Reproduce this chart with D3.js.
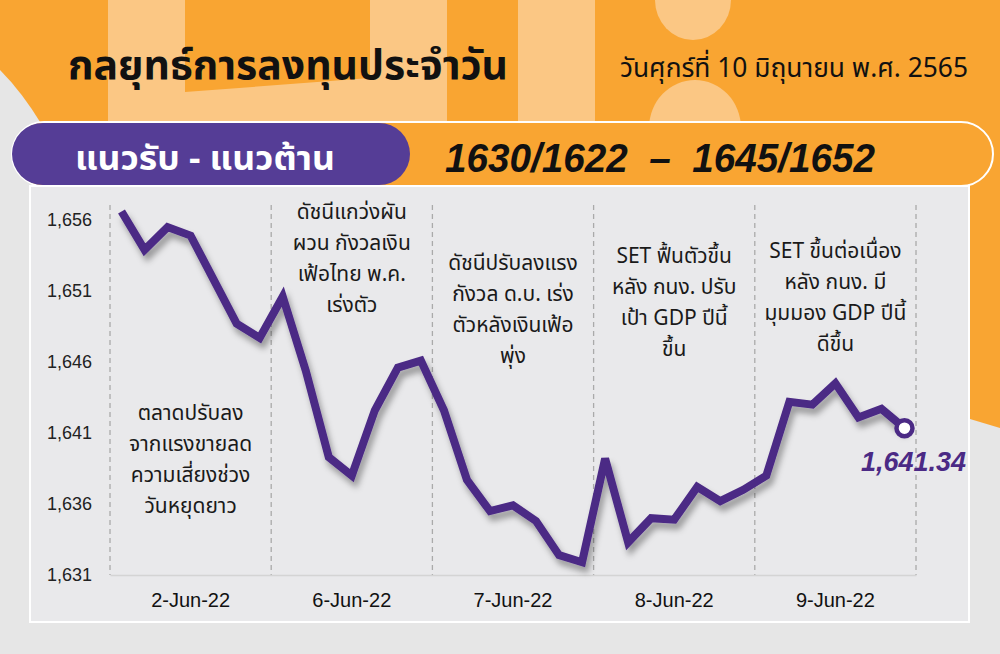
<!DOCTYPE html>
<html>
<head>
<meta charset="utf-8">
<script src="https://cdn.jsdelivr.net/npm/d3@7/dist/d3.min.js"></script>
<style>
  html, body { margin: 0; padding: 0; background: #e6e6e6; }
  svg { display: block; }
  .thai { font-family: "Noto Sans Thai", "Noto Sans Thai UI", "Noto Sans", "DejaVu Sans", sans-serif; }
  .lat { font-family: "Liberation Sans", Arial, sans-serif; }
</style>
</head>
<body>
<svg id="chart" width="1000" height="654"></svg>
<script>
// ---------------- DATA ----------------
const days = ["2-Jun-22", "6-Jun-22", "7-Jun-22", "8-Jun-22", "9-Jun-22"];
const day1 = [1656.6, 1653.9, 1655.5, 1654.9, 1651.8, 1648.7, 1647.7];
const day2 = [1650.6, 1645.4, 1639.3, 1638.0, 1642.6, 1645.6, 1646.1];
const day3 = [1642.6, 1637.7, 1635.5, 1635.9, 1634.8, 1632.4, 1631.9];
const day4 = [1639.2, 1633.3, 1635.0, 1634.9, 1637.2, 1636.2, 1637.0];
const day5 = [1638.0, 1643.2, 1643.0, 1644.5, 1642.1, 1642.7, 1641.34];
const yTicks = [1631, 1636, 1641, 1646, 1651, 1656];
const lastLabel = "1,641.34";
const title = "กลยุทธ์การลงทุนประจำวัน";
const dateText = "วันศุกร์ที่ 10 มิถุนายน พ.ศ. 2565";
const pillLabel = "แนวรับ - แนวต้าน";
const levels = "1630/1622  –  1645/1652";
const notes = [
  ["ตลาดปรับลง", "จากแรงขายลด", "ความเสี่ยงช่วง", "วันหยุดยาว"],
  ["ดัชนีแกว่งผัน", "ผวน กังวลเงิน", "เฟ้อไทย พ.ค.", "เร่งตัว"],
  ["ดัชนีปรับลงแรง", "กังวล ด.บ. เร่ง", "ตัวหลังเงินเฟ้อ", "พุ่ง"],
  ["SET ฟื้นตัวขึ้น", "หลัง กนง. ปรับ", "เป้า GDP ปีนี้", "ขึ้น"],
  ["SET ขึ้นต่อเนื่อง", "หลัง กนง. มี", "มุมมอง GDP ปีนี้", "ดีขึ้น"]
];

const series = [day1, day2, day3, day4, day5];
const points = [];
series.forEach((arr, d) => arr.forEach((v, k) => points.push({ day: d, k: k, v: v })));
const perDay = day1.length;

// ---------------- LAYOUT ----------------
const svg = d3.select("#chart");
const ORANGE = "#f9a532", LIGHT = "#fbc784", GRAY = "#e6e6e6", PURPLE = "#553d96", LINE = "#4b2a85";

const defs = svg.append("defs");
const f = defs.append("filter").attr("id", "shadow").attr("x", "-10%").attr("y", "-10%").attr("width", "120%").attr("height", "130%");
f.append("feDropShadow").attr("dx", 3).attr("dy", 6).attr("stdDeviation", 3)
  .attr("flood-color", "#000").attr("flood-opacity", 0.35);

// background
svg.append("rect").attr("width", 1000).attr("height", 654).attr("fill", GRAY);
svg.append("rect").attr("x", 0).attr("y", 0).attr("width", 1000).attr("height", 125).attr("fill", ORANGE);
svg.append("path").attr("d", "M960,120 L1000,120 L1000,428 L960,416 Z").attr("fill", ORANGE);
svg.append("path").attr("d", "M0,70 Q22,92 42,125 L0,125 Z").attr("fill", GRAY);
svg.append("rect").attr("x", 108).attr("y", 0).attr("width", 77).attr("height", 125).attr("fill", LIGHT);
svg.append("path").attr("d", "M185,92 L370,78 L370,125 L185,125 Z").attr("fill", LIGHT);
svg.append("rect").attr("x", 370).attr("y", 0).attr("width", 77).attr("height", 125).attr("fill", LIGHT);
svg.append("rect").attr("x", 518).attr("y", 0).attr("width", 77).attr("height", 125).attr("fill", LIGHT);
svg.append("ellipse").attr("cx", 693).attr("cy", 0).attr("rx", 38).attr("ry", 40).attr("fill", LIGHT);
svg.append("ellipse").attr("cx", 695).attr("cy", 128).attr("rx", 46).attr("ry", 48).attr("fill", LIGHT);

// header texts
svg.append("text").attr("class", "thai").attr("x", 68).attr("y", 79)
  .attr("font-size", 40).attr("font-weight", "bold").attr("fill", "#111")
  .attr("textLength", 440).attr("lengthAdjust", "spacingAndGlyphs").text(title);
svg.append("text").attr("class", "thai").attr("x", 620).attr("y", 77)
  .attr("font-size", 27).attr("fill", "#111")
  .attr("textLength", 348).attr("lengthAdjust", "spacingAndGlyphs").text(dateText);

// pills
svg.append("rect").attr("x", 12).attr("y", 122).attr("width", 981).attr("height", 64)
  .attr("rx", 32).attr("fill", ORANGE).attr("stroke", "#fff").attr("stroke-width", 2);
svg.append("rect").attr("x", 12).attr("y", 123).attr("width", 398).attr("height", 62)
  .attr("rx", 31).attr("fill", PURPLE);
svg.append("text").attr("class", "thai").attr("x", 75).attr("y", 170)
  .attr("font-size", 34).attr("font-weight", "bold").attr("fill", "#fff")
  .attr("textLength", 260).attr("lengthAdjust", "spacingAndGlyphs").text(pillLabel);
svg.append("text").attr("class", "lat").attr("x", 445).attr("y", 172)
  .attr("font-size", 40).attr("font-weight", "bold").attr("font-style", "italic").attr("fill", "#111")
  .attr("textLength", 430).attr("lengthAdjust", "spacingAndGlyphs")
  .style("white-space", "pre").text(levels);

// chart panel
svg.append("rect").attr("x", 30).attr("y", 186).attr("width", 939).attr("height", 436)
  .attr("fill", "#e9e9eb").attr("stroke", "#fff").attr("stroke-width", 2);

// scales
const xDay = d3.scaleBand().domain(days).range([110, 916]);
const x = d3.scaleLinear().domain([0, days.length * perDay]).range([110, 916]);
const y = d3.scaleLinear().domain([1631, 1656]).range([575, 220]);
const px = p => x(p.day * perDay + p.k + 0.5);

const g = svg.append("g");

// dashed dividers
const edges = days.map(d => xDay(d)).concat([xDay.range()[1]]);
g.selectAll("line.div").data(edges).join("line")
  .attr("x1", d => d).attr("x2", d => d).attr("y1", 205).attr("y2", 575)
  .attr("stroke", "#aaaaaa").attr("stroke-width", 1.3).attr("stroke-dasharray", "5,4");

// x axis
const xAxis = g.append("g").attr("transform", "translate(0,575)")
  .call(d3.axisBottom(xDay).tickSize(0).tickPadding(0));
xAxis.select(".domain").attr("stroke", "#d4d4d4").attr("stroke-width", 1.5);
xAxis.selectAll("text").attr("class", "lat").attr("font-size", 20).attr("fill", "#111")
  .attr("dy", 0).attr("y", 32);

// y axis labels
const yAxis = g.append("g").attr("transform", "translate(92,0)")
  .call(d3.axisLeft(y).tickValues(yTicks).tickSize(0).tickPadding(0).tickFormat(d3.format(",")));
yAxis.select(".domain").remove();
yAxis.selectAll("text").attr("class", "lat").attr("font-size", 18).attr("fill", "#222");

// annotations
const noteTop = [412, 211, 262, 255, 250];
notes.forEach((lines, i) => {
  const t = g.append("text").attr("class", "thai").attr("text-anchor", "middle")
    .attr("font-size", 21).attr("fill", "#1a1a1a");
  lines.forEach((ln, j) => {
    t.append("tspan").attr("x", xDay(days[i]) + xDay.bandwidth() / 2)
      .attr("y", noteTop[i] + j * 31).attr("dy", "0.36em").text(ln);
  });
});

// line
const lineGen = d3.line().x(px).y(d => y(d.v));
g.append("path").datum(points).attr("d", lineGen)
  .attr("fill", "none").attr("stroke", LINE).attr("stroke-width", 8)
  .attr("stroke-linejoin", "miter").attr("stroke-miterlimit", 3).attr("filter", "url(#shadow)");

const last = points[points.length - 1];
g.append("circle").attr("cx", px(last)).attr("cy", y(last.v)).attr("r", 8)
  .attr("fill", "#fff").attr("stroke", LINE).attr("stroke-width", 4.5);

g.append("text").attr("class", "lat").attr("x", 966).attr("y", y(last.v) + 43)
  .attr("text-anchor", "end").attr("font-size", 27).attr("font-weight", "bold")
  .attr("font-style", "italic").attr("fill", LINE).text(lastLabel);
</script>
</body>
</html>
